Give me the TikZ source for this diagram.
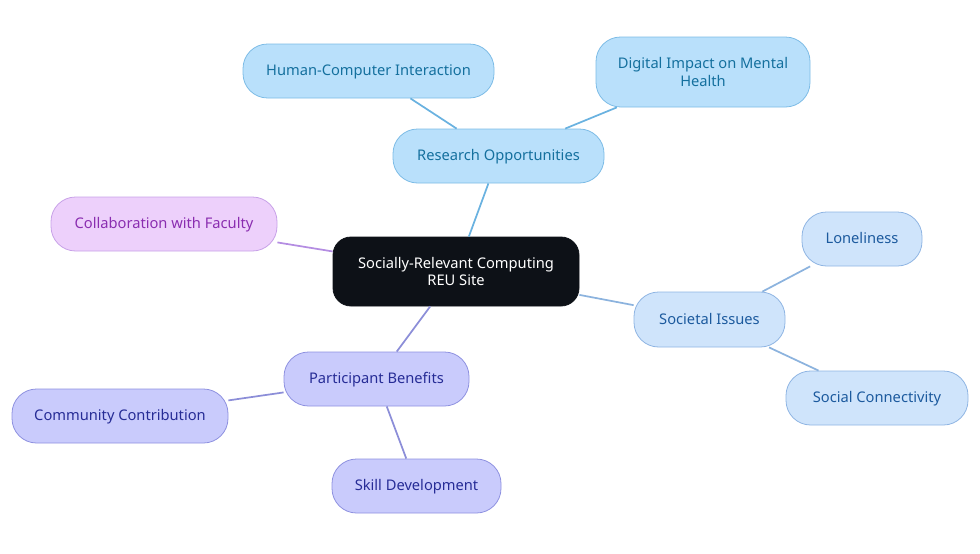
\documentclass[tikz,border=0pt]{standalone}
\usepackage{fontspec}
\setmainfont{Noto Sans}
\definecolor{rfill}{HTML}{B9E0FB}
\definecolor{rdraw}{HTML}{7DBCE6}
\definecolor{rtext}{HTML}{14709E}
\definecolor{rline}{HTML}{6AB2E0}
\definecolor{sfill}{HTML}{CFE4FB}
\definecolor{sdraw}{HTML}{8FB5E3}
\definecolor{stext}{HTML}{1C5A9E}
\definecolor{sline}{HTML}{8CB3DE}
\definecolor{cfill}{HTML}{EDD0FB}
\definecolor{cdraw}{HTML}{C8A2E8}
\definecolor{ctext}{HTML}{8A2DB0}
\definecolor{cline}{HTML}{B48DE2}
\definecolor{pfill}{HTML}{C9CBFC}
\definecolor{pdraw}{HTML}{8E91E0}
\definecolor{ptext}{HTML}{262C96}
\definecolor{pline}{HTML}{8C8ED8}
\definecolor{rootfill}{HTML}{0D1117}
\tikzset{
  box/.style={rounded corners=18.4pt, line width=0.6pt, align=center, inner sep=0pt, font=\fontsize{11}{13}\selectfont},
  oneline/.style={text height=0.96em, text depth=0.24em},
  rbox/.style={box, fill=rfill, draw=rdraw, text=rtext},
  sbox/.style={box, fill=sfill, draw=sdraw, text=stext},
  cbox/.style={box, fill=cfill, draw=cdraw, text=ctext},
  pbox/.style={box, fill=pfill, draw=pdraw, text=ptext},
  rootbox/.style={box, rounded corners=13.5pt, fill=rootfill, draw=rootfill, text=white},
  sz/.style 2 args={minimum width=#1*0.75pt, minimum height=#2*0.75pt},
  edge/.style={line width=1.3pt},
}
\begin{document}
\begin{tikzpicture}[x=0.75pt,y=-0.75pt]
\useasboundingbox (0,0) rectangle (980,553);
\node[rootbox, sz={246}{69}] (root) at (456,271.5) {Socially-Relevant Computing\\REU Site};
\node[rbox, oneline, sz={211}{54}] (ro) at (498.5,156) {Research Opportunities};
\node[rbox, oneline, sz={251}{54}] (hci) at (368.5,71) {Human-Computer Interaction};
\node[rbox, sz={214}{70}] (dim) at (703,72) {Digital Impact on Mental\\Health};
\node[cbox, oneline, sz={226}{54}] (cf) at (164,224) {Collaboration with Faculty};
\node[sbox, oneline, sz={151}{55}] (si) at (709.5,319.5) {Societal Issues};
\node[sbox, oneline, sz={120}{54}] (lo) at (862,239) {Loneliness};
\node[sbox, oneline, sz={182}{54}] (sc) at (877,398) {Social Connectivity};
\node[pbox, oneline, sz={185}{54}] (pb) at (376.5,379) {Participant Benefits};
\node[pbox, oneline, sz={216}{54}] (cc) at (120,416) {Community Contribution};
\node[pbox, oneline, sz={169}{54}] (sd) at (416.5,486) {Skill Development};
\draw[edge, rline] (root) -- (ro);
\draw[edge, rline] (ro) -- (hci);
\draw[edge, rline] (ro) -- (dim);
\draw[edge, cline] (root) -- (cf);
\draw[edge, sline] (root) -- (si);
\draw[edge, sline] (si) -- (lo);
\draw[edge, sline] (si) -- (sc);
\draw[edge, pline] (root) -- (pb);
\draw[edge, pline] (pb) -- (cc);
\draw[edge, pline] (pb) -- (sd);
\end{tikzpicture}
\end{document}
